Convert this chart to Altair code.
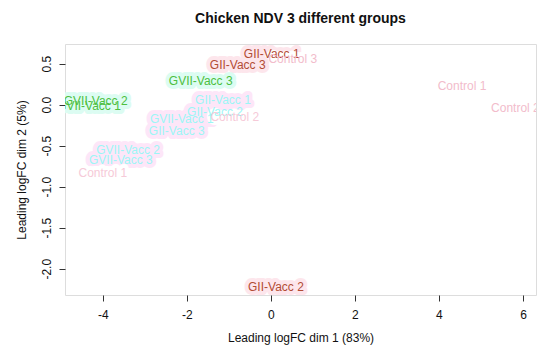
import altair as alt
import pandas as pd

labels = [
    "GII-Vacc 1", "Control 3", "GII-Vacc 3", "GVII-Vacc 3", "Control 1", "Control 2",
    "GVII-Vacc 2", "GVII-Vacc 1", "GII-Vacc 2",
    "GII-Vacc 1", "GII-Vacc 2", "GVII-Vacc 1", "Control 2", "GII-Vacc 3",
    "GVII-Vacc 2", "GVII-Vacc 3", "Control 1",
]
dim1 = [0.02, 0.52, -0.79, -1.67, 4.55, 5.82, -4.17, -4.33, 0.12,
        -1.14, -1.33, -2.12, -0.86, -2.24, -3.40, -3.57, -4.00]
dim2 = [0.62, 0.56, 0.48, 0.29, 0.23, -0.04, 0.05, -0.02, -2.22,
        0.06, -0.09, -0.17, -0.15, -0.32, -0.55, -0.68, -0.83]
groups = ["GII", "Control", "GII", "GVII", "Control", "Control", "GVII", "GVII", "GII",
          "GII-b", "GII-b", "GVII-b", "Control-b", "GII-b", "GVII-b", "GVII-b", "Control-b"]

group_names = ["GII", "GVII", "Control", "GII-b", "GVII-b", "Control-b"]
text_colors = ["#b24c34", "#4cbf3e", "#f2bccb", "#9cf6f6", "#9cf6f6", "#f6cad8"]
halo_colors = ["#fde6ec", "#dcfcf2", "#ffffff", "#fde6f8", "#fde6f8", "#ffffff"]

x_ticks = [-4, -2, 0, 2, 4, 6]
y_ticks = [0.5, 0.0, -0.5, -1.0, -1.5, -2.0]

df = pd.DataFrame({"label": labels, "d1": dim1, "d2": dim2, "grp": groups})

xenc = alt.X("d1:Q", scale=alt.Scale(domain=[-4.90, 6.31], nice=False, zero=False),
             axis=alt.Axis(values=x_ticks, domain=False, grid=False, tickSize=6,
                           tickColor="#333", labelColor="#111", labelFontSize=12,
                           labelFont="Liberation Sans", labelPadding=8,
                           labelExpr="replace(datum.label, '\u2212', '-')",
                           title="Leading logFC dim 1 (83%)", titleFontWeight="normal",
                           titleFont="Liberation Sans", titleFontSize=12, titleColor="#111",
                           titlePadding=12))
yenc = alt.Y("d2:Q", scale=alt.Scale(domain=[-2.32, 0.74], nice=False, zero=False),
             axis=alt.Axis(values=y_ticks, domain=False, grid=False, tickSize=6,
                           tickColor="#333", labelColor="#111", labelFontSize=12,
                           labelFont="Liberation Sans", labelAngle=-90, labelAlign="center",
                           labelBaseline="bottom", labelPadding=6,
                           labelExpr="replace(format(datum.value, '.1f'), '\u2212', '-')",
                           title="Leading logFC dim 2 (5%)", titleFontWeight="normal",
                           titleFont="Liberation Sans", titleFontSize=12, titleColor="#111",
                           titlePadding=12))

halo = alt.Chart(df).mark_text(
    fontSize=12, font="Liberation Sans", strokeWidth=8, strokeJoin="round", clip=True,
    fillOpacity=0
).encode(
    x=xenc, y=yenc, text="label:N",
    stroke=alt.Stroke("grp:N", scale=alt.Scale(domain=group_names, range=halo_colors), legend=None),
)

txt = alt.Chart(df).mark_text(
    fontSize=12, font="Liberation Sans", clip=True
).encode(
    x=xenc, y=yenc, text="label:N",
    color=alt.Color("grp:N", scale=alt.Scale(domain=group_names, range=text_colors), legend=None),
)

chart = alt.layer(halo, txt).resolve_scale(color="independent").properties(
    width=471, height=251,
    padding={"left": 57, "top": 36, "right": 6, "bottom": 54},
    autosize=alt.AutoSizeParams(type="none"),
    title=alt.TitleParams("Chicken NDV 3 different groups", font="Liberation Sans",
                          fontSize=14, fontWeight="bold", color="#111", offset=18),
).configure_view(stroke="#333", strokeWidth=1).configure(background="white")

chart.save("out.html", embed_options={"renderer": "svg", "actions": False})
